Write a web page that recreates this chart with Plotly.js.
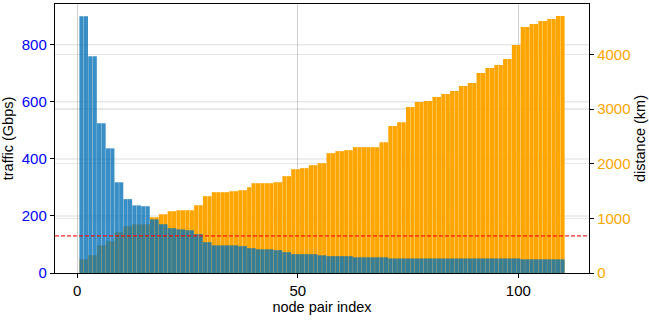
<!DOCTYPE html>
<html>
<head>
<meta charset="utf-8">
<script src="https://cdn.plot.ly/plotly-3.0.1.min.js"></script>
<style>
html,body{margin:0;padding:0;background:#fff;}
#chart{width:649px;height:322px;}
</style>
</head>
<body>
<div id="chart"></div>
<script>
// traffic per node pair (Gbps)
const traffic = [
  900, 900, 760, 760, 525, 525, 437, 437, 318, 318,
  259, 259, 237, 237, 234, 234, 188, 188, 171, 171,
  157, 157, 153, 153, 150, 150, 136, 136, 108, 108,
  97, 97, 97, 97, 97, 97, 94, 94, 87, 87,
  83, 83, 83, 83, 80, 80, 73, 73, 66, 66,
  66, 66, 66, 66, 62, 62, 59, 59, 59, 59,
  59, 59, 55, 55, 55, 55, 55, 55, 55, 55,
  51, 51, 51, 51, 51, 51, 51, 51, 51, 51,
  51, 51, 51, 51, 51, 51, 51, 51, 51, 51,
  51, 51, 51, 51, 51, 51, 51, 51, 51, 51,
  48, 48, 48, 48, 48, 48, 48, 48, 48, 48
];
// distance per node pair (km)
const distance = [
  251, 251, 324, 324, 507, 507, 580, 580, 745, 745,
  855, 855, 892, 892, 892, 892, 1020, 1020, 1075, 1075,
  1130, 1130, 1148, 1148, 1148, 1148, 1240, 1240, 1405, 1405,
  1478, 1478, 1478, 1478, 1496, 1496, 1515, 1515, 1570, 1643,
  1643, 1643, 1643, 1643, 1661, 1661, 1771, 1771, 1899, 1899,
  1918, 1918, 1973, 1973, 2009, 2009, 2192, 2192, 2229, 2229,
  2247, 2247, 2302, 2302, 2302, 2302, 2302, 2302, 2394, 2394,
  2687, 2687, 2760, 2760, 3035, 3035, 3126, 3126, 3145, 3145,
  3218, 3218, 3273, 3273, 3328, 3328, 3420, 3420, 3474, 3474,
  3657, 3657, 3749, 3749, 3804, 3804, 3914, 3914, 4170, 4170,
  4500, 4500, 4555, 4555, 4610, 4610, 4646, 4646, 4701, 4701
];
const trafficThreshold = 130;
const xTicks = [0, 50, 100];
const trafficTicks = [0, 200, 400, 600, 800];
const distanceTicks = [0, 1000, 2000, 3000, 4000];

const pairIndex = traffic.map((_, i) => i + 1);

const FONT = 'Liberation Sans, Arial, sans-serif';
const GRID = 'rgba(0,0,0,0.09)';

const traces = [
  {
    type: 'bar', x: pairIndex, y: distance, yaxis: 'y', name: 'distance',
    marker: {color: '#FFA500', line: {width: 0}},
    hoverinfo: 'x+y'
  },
  {
    type: 'bar', x: pairIndex, y: traffic, yaxis: 'y2', name: 'traffic',
    marker: {color: 'rgba(8,115,182,0.8)', line: {width: 0}},
    hoverinfo: 'x+y'
  }
];

// horizontal gridlines of the traffic axis, kept beneath the bars
const trafficGrid = trafficTicks.slice(1).map(v => ({
  type: 'line', layer: 'below', xref: 'paper', x0: 0, x1: 1, yref: 'y2', y0: v, y1: v,
  line: {color: GRID, width: 1.5}
}));

const layout = {
  width: 649, height: 322,
  margin: {l: 55, r: 60, t: 4, b: 49},
  paper_bgcolor: '#fff', plot_bgcolor: '#fff',
  showlegend: false,
  barmode: 'overlay', bargap: 0.05,
  font: {family: FONT, size: 15, color: '#000'},
  xaxis: {
    range: [-5, 116], tickvals: xTicks, ticktext: xTicks.map(String),
    showgrid: true, gridcolor: 'rgba(0,0,0,0.18)', gridwidth: 1,
    zeroline: false, showline: true, linecolor: '#000', linewidth: 1.2, mirror: true,
    ticks: 'outside', ticklen: 4, tickcolor: '#000', tickwidth: 1,
    tickfont: {size: 15, color: '#000'},
    title: {text: 'node pair index', font: {size: 14.5, color: '#000'}, standoff: 3}
  },
  yaxis: {
    side: 'right', range: [0, 4921],
    tickvals: distanceTicks, ticktext: distanceTicks.map(String),
    showgrid: true, gridcolor: GRID, gridwidth: 1.5,
    zeroline: false, showline: true, linecolor: '#000', linewidth: 1.2,
    ticks: 'outside', ticklen: 4, tickcolor: '#000',
    tickfont: {size: 15, color: '#FFA500'},
    title: {text: 'distance (km)', font: {size: 14.5, color: '#000'}, standoff: 5}
  },
  yaxis2: {
    overlaying: 'y', side: 'left', range: [0, 943],
    tickvals: trafficTicks, ticktext: trafficTicks.map(String),
    showgrid: false,
    zeroline: false, showline: true, linecolor: '#000', linewidth: 1.2,
    ticks: 'outside', ticklen: 4, tickcolor: '#000',
    tickfont: {size: 15, color: '#0000FF'},
    title: {text: 'traffic (Gbps)', font: {size: 14.5, color: '#000'}, standoff: 5}
  },
  shapes: trafficGrid.concat([{
    type: 'line', xref: 'paper', x0: 0, x1: 1, yref: 'y2',
    y0: trafficThreshold, y1: trafficThreshold,
    line: {color: 'rgba(255,0,0,0.85)', width: 1.2, dash: '4px,2px'}
  }])
};

Plotly.newPlot('chart', traces, layout, {displayModeBar: false, staticPlot: true});
</script>
</body>
</html>
